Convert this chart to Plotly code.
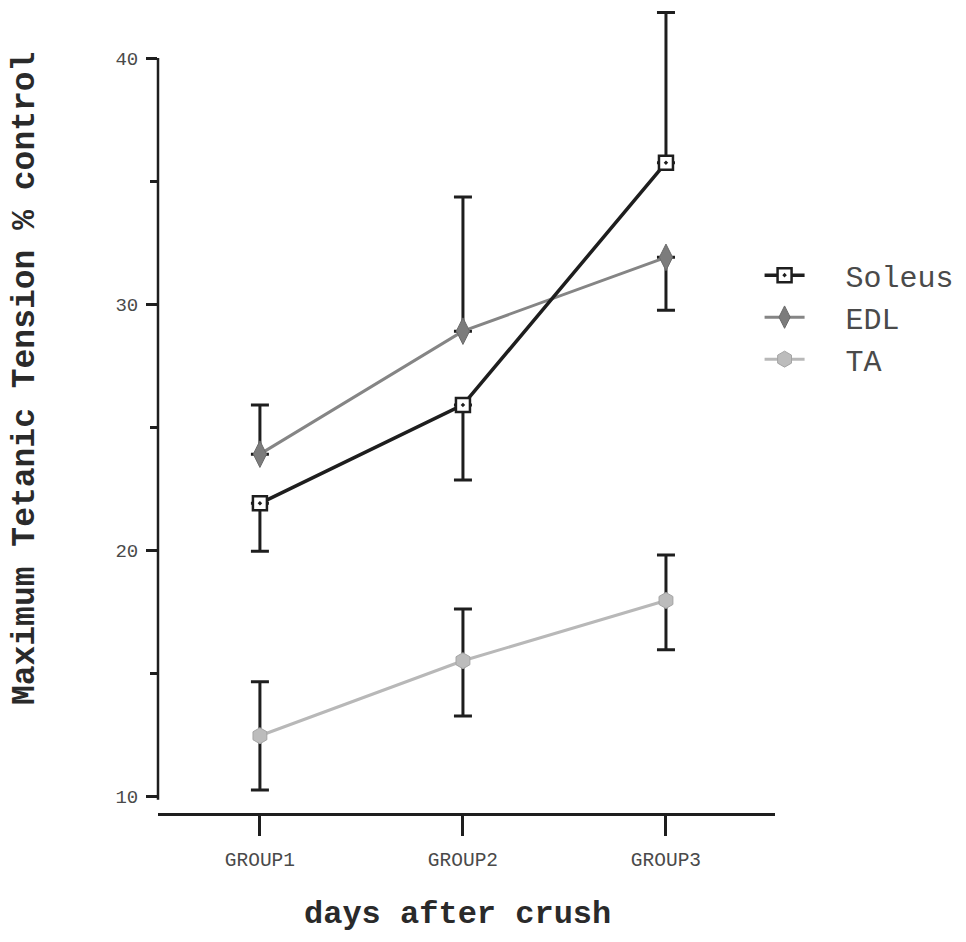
import plotly.graph_objects as go

# Group labels along the x axis
groups = ["GROUP1", "GROUP2", "GROUP3"]

# Soleus: means with one-sided error bars
soleus = [21.9, 25.9, 35.75]
soleus_plus = [0.0, 0.0, 6.1]
soleus_minus = [1.95, 3.05, 0.0]

# EDL: means with one-sided error bars
edl = [23.9, 28.9, 31.9]
edl_plus = [2.0, 5.45, 0.0]
edl_minus = [0.0, 0.0, 2.15]

# TA: means with two-sided error bars
ta = [12.45, 15.5, 17.95]
ta_plus = [2.2, 2.1, 1.85]
ta_minus = [2.2, 2.25, 2.0]

y_ticks = [10, 20, 30, 40]

MONO = "Liberation Mono, Courier New, monospace"
ERR = "#1e1e1e"
PAD = "\u00a0\u00a0"  # gap between legend symbol and label


def err(plus, minus):
    return dict(type="data", symmetric=False, array=plus, arrayminus=minus,
                color=ERR, thickness=3, width=9)


fig = go.Figure()

fig.add_trace(go.Scatter(
    x=groups, y=ta, name=PAD + "TA", mode="lines+markers",
    line=dict(color="#b8b8b8", width=3),
    marker=dict(symbol="hexagon", size=16, color="#bcbcbc",
                line=dict(color="#a4a4a4", width=1)),
    error_y=err(ta_plus, ta_minus),
))

fig.add_trace(go.Scatter(
    x=groups, y=edl, name=PAD + "EDL", mode="lines+markers",
    line=dict(color="#858585", width=3),
    marker=dict(symbol="diamond-tall", size=19, color="#7c7c7c",
                line=dict(color="#6a6a6a", width=1)),
    error_y=err(edl_plus, edl_minus),
))

fig.add_trace(go.Scatter(
    x=groups, y=soleus, name=PAD + "Soleus", mode="lines+markers",
    line=dict(color="#1e1e1e", width=3.5),
    marker=dict(symbol="square-dot", size=14, color="white",
                line=dict(color="#1e1e1e", width=2.5)),
    error_y=err(soleus_plus, soleus_minus),
))

# Vertical axis line spanning only the labelled range
fig.add_shape(type="line", xref="paper", yref="y",
              x0=0, x1=0, y0=9.85, y1=40,
              line=dict(color="#1e1e1e", width=2.5))

fig.update_layout(
    width=966, height=942,
    margin=dict(l=158, r=191, t=4, b=129),
    paper_bgcolor="white", plot_bgcolor="white",
    showlegend=True,
    legend=dict(
        x=0.975, y=0.697, xanchor="left", yanchor="top",
        traceorder="reversed",
        font=dict(family=MONO, size=30, color="#4a4a4a"),
        bgcolor="rgba(0,0,0,0)", itemwidth=40, tracegroupgap=0,
    ),
    xaxis=dict(
        type="category", range=[-0.502, 2.537],
        showline=True, linecolor="#1e1e1e", linewidth=2.5,
        showgrid=False, zeroline=False,
        ticks="outside", ticklen=20, tickwidth=2.5, tickcolor="#1e1e1e",
        tickfont=dict(family=MONO, size=19.5, color="#4a4a4a"),
        ticklabelstandoff=7,
    ),
    yaxis=dict(
        range=[9.31, 42.2],
        showline=False, showgrid=False, zeroline=False,
        tickvals=y_ticks, ticktext=[str(v) for v in y_ticks],
        ticks="outside", ticklen=11, tickwidth=2.5, tickcolor="#1e1e1e",
        tickfont=dict(family=MONO, size=19, color="#4a4a4a"),
        ticklabelstandoff=4,
        minor=dict(tickvals=[15, 25, 35], ticks="outside", ticklen=7,
                   tickwidth=2.5, tickcolor="#1e1e1e"),
    ),
    annotations=[
        dict(text="<b>Maximum Tetanic Tension % control</b>",
             xref="paper", yref="paper", x=-0.215, y=0.538,
             xanchor="center", yanchor="middle", textangle=-90,
             showarrow=False,
             font=dict(family=MONO, size=33, color="#2a2a2a")),
        dict(text="<b>days after crush</b>",
             xref="paper", yref="paper", x=0.485, y=-0.126,
             xanchor="center", yanchor="middle",
             showarrow=False,
             font=dict(family=MONO, size=32, color="#2a2a2a")),
    ],
)

fig.write_html("out.html")
